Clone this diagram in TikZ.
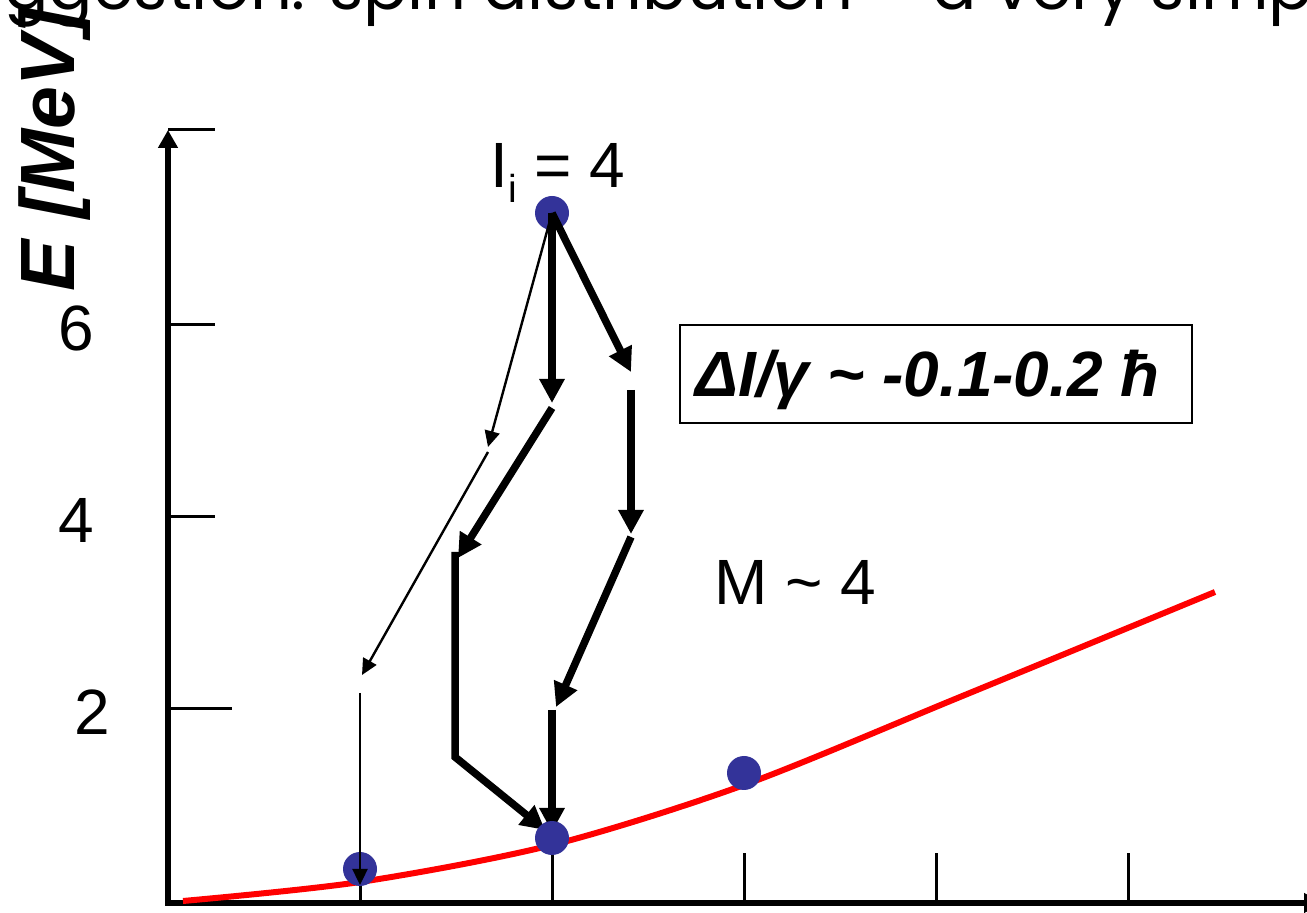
\documentclass[tikz,border=0pt]{standalone}
\usepackage{fontspec}
\setmainfont{Liberation Sans}
\newfontfamily\titlefont{Poppins}
\usetikzlibrary{arrows.meta}
\definecolor{dotblue}{HTML}{333399}

\tikzset{
  axisline/.style={line width=3pt, -{Triangle[length=9pt,width=9.5pt]}},
  tickline/.style={line width=1.5pt},
  dot/.style={circle, fill=dotblue, minimum size=17pt, inner sep=0pt},
  thickarrow/.style={line width=3.75pt, -{Triangle[length=12pt,width=12pt]}},
  thinarrow/.style={line width=1.2pt, -{Triangle[length=8pt,width=7.5pt]}},
  ticklabel/.style={anchor=base east, inner sep=0pt},
  plain/.style={anchor=base west, inner sep=0pt},
}

\begin{document}
\begin{tikzpicture}[x=0.5pt, y=-0.5pt, font=\fontsize{32}{38}\selectfont]

\useasboundingbox (0,0) rectangle (1307,913);
\clip (0,0) rectangle (1307,913);

% Title (cut by the page)
\node[plain, font=\titlefont\fontsize{32.8}{39}\selectfont] (title) at (4,10) {ggestion: spin distribution – a very simp};

% Axes
\draw[axisline] (168,906) -- (168,130);
\draw[axisline] (166,903) -- (1322,903);

% y ticks
\foreach \y in {130,325,517}
{
    \draw[tickline] (168,\y) -- (215,\y);
}
\draw[tickline] (168,709) -- (232,709);

% x ticks
\foreach \x in {360,552,744,936,1128}
{
    \draw[tickline] (\x,903) -- (\x,853);
}

% y tick labels
\node[ticklabel] (l6) at (94,351) {6};
\node[ticklabel] (l4) at (94,543) {4};
\node[ticklabel] (l2) at (110,735) {2};

% y axis label
\node[rotate=90, plain, font=\bfseries\itshape\fontsize{38.5}{46}\selectfont] (elabel) at (74,292) {E [MeV]};

% Yrast line
\draw[red, line width=3pt] plot[smooth] coordinates {(183,901) (360,882) (552,845) (744,785) (960,697) (1215,592)};

% States
\node[dot] (itop) at (552,213) {};
\node[dot] (dA) at (360,869) {};
\node[dot] (dC) at (744,773) {};

% Way points of the cascades
\foreach \n/\x/\y in {a1/488/447, a2/488/452, a3/362/675, a4/360/693, a5/360/885,
                      b1/552/403, b2/552/408, b3/458/558, b4/455/552, b5/455/757, b6/545/830,
                      c1/631/372, c2/631/390, c3/631/534, c4/631/537, c5/556/707, c6/552/710, c7/552/832}
{
    \coordinate (\n) at (\x,\y);
}

% thin cascade
\draw[thinarrow] (itop.center) -- (a1);
\draw[thinarrow] (a2) -- (a3);
\draw[thinarrow] (a4) -- (a5);

% middle cascade
\draw[thickarrow] (itop.center) -- (b1);
\draw[thickarrow] (b2) -- (b3);
\draw[thickarrow] (b4) -- (b5) -- (b6);

% right cascade
\draw[thickarrow] (itop.center) -- (c1);
\draw[thickarrow] (c2) -- (c3);
\draw[thickarrow] (c4) -- (c5);
\draw[thickarrow] (c6) -- (c7);

\node[dot] (dB) at (552,838) {};

% Labels
\node[plain] (ilabel) at (490,188) {I\raisebox{-7.5pt}{\fontsize{19.5}{20}\selectfont i} = 4};
\node[plain] (mult) at (714,605) {M \textasciitilde{} 4};

% Box
\node[draw, line width=1pt, minimum width=256pt, minimum height=49pt, inner sep=0pt] (gainbox) at (936,374) {};
\node[plain, font=\bfseries\itshape\fontsize{32}{38}\selectfont] (gaintext) at (695,397) {ΔI/γ \textasciitilde{} -0.1-0.2 ħ};

\end{tikzpicture}
\end{document}
